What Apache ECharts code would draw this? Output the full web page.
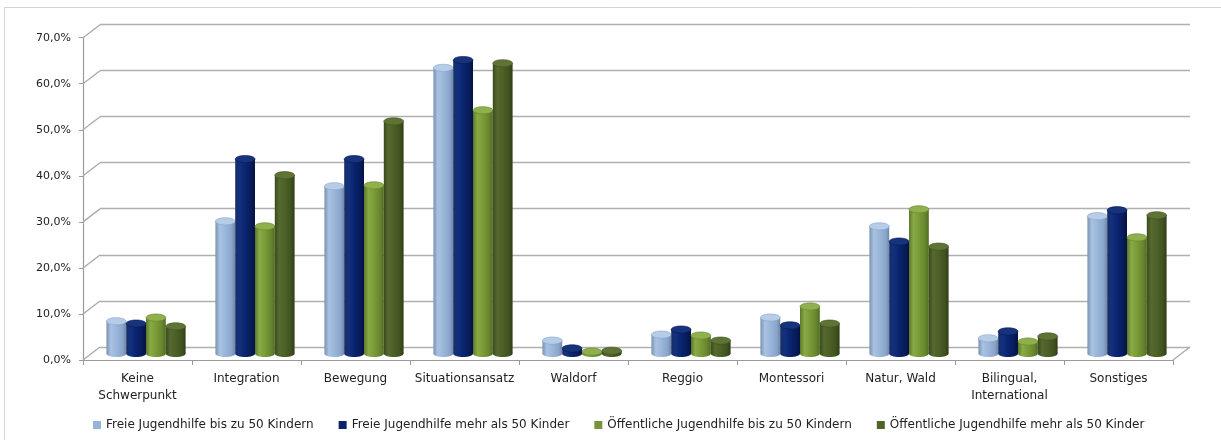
<!DOCTYPE html>
<html>
<head>
<meta charset="utf-8">
<script src="https://cdn.jsdelivr.net/npm/echarts@6/dist/echarts.min.js"></script>
<style>
  html, body { margin: 0; padding: 0; background: #ffffff; }
  #chart { width: 1221px; height: 440px; }
</style>
</head>
<body>
<div id="chart"></div>
<script>
// Pädagogische Schwerpunkte nach Trägerart und Einrichtungsgröße (Anteile in %)
const categories = [
  'Keine\nSchwerpunkt', 'Integration', 'Bewegung', 'Situationsansatz', 'Waldorf',
  'Reggio', 'Montessori', 'Natur, Wald', 'Bilingual,\nInternational', 'Sonstiges'
];
const seriesNames = [
  'Freie Jugendhilfe bis zu 50 Kindern',
  'Freie Jugendhilfe mehr als 50 Kinder',
  'Öffentliche Jugendhilfe bis zu 50 Kindern',
  'Öffentliche Jugendhilfe mehr als 50 Kinder'
];
const freieKlein      = [7.0, 28.7, 36.3, 62.0, 2.8, 4.1, 7.8, 27.6, 3.3, 29.8];
const freieGross      = [6.5, 42.2, 42.2, 63.7, 1.1, 5.2, 6.1, 24.3, 4.8, 31.1];
const oeffentlichKlein = [7.8, 27.6, 36.5, 52.8, 0.4, 3.9, 10.2, 31.3, 2.6, 25.2];
const oeffentlichGross = [5.9, 38.7, 50.4, 63.0, 0.6, 2.8, 6.5, 23.2, 3.7, 30.0];
const yTicks = [0, 10, 20, 30, 40, 50, 60, 70];

const seriesValues = [freieKlein, freieGross, oeffentlichKlein, oeffentlichGross];

// Cylinder shading: body gradient stops, cap colour, legend colour
const palette = [
  { legend: '#95B3D7', cap: '#b6cce7',
    body: ['#7a91b0', '#a9c2e2', '#9ab6da', '#89a5c9', '#7088a8'] },
  { legend: '#0b2468', cap: '#16337b',
    body: ['#1a2d66', '#12317c', '#0a2470', '#071b57', '#041240'] },
  { legend: '#77933C', cap: '#8fb04c',
    body: ['#5c762b', '#88aa44', '#7a9b38', '#67852d', '#506a23'] },
  { legend: '#4F6228', cap: '#5f7434',
    body: ['#3a491d', '#56692f', '#4c6027', '#40521f', '#2f3c17'] }
];

// depth offset of the chart's 3D box (front plane -> back wall)
const DEPTH_X = 17, DEPTH_Y = -13;
const BAR_SLOT = 19.8;

function bodyGradient(stops) {
  return new echarts.graphic.LinearGradient(0, 0, 1, 0, [
    { offset: 0, color: stops[0] },
    { offset: 0.22, color: stops[1] },
    { offset: 0.5, color: stops[2] },
    { offset: 0.82, color: stops[3] },
    { offset: 1, color: stops[4] }
  ]);
}

function cylinderRenderer(k) {
  const p = palette[k];
  return function (params, api) {
    const cat = api.value(0);
    const v = api.value(1);
    const top = api.coord([cat, v]);
    const base = api.coord([cat, 0]);
    const cx = base[0] + (k - 1.5) * BAR_SLOT;
    const w = BAR_SLOT;
    const rx = w / 2, ry = 3.6;
    const grad = bodyGradient(p.body);
    return {
      type: 'group',
      children: [
        { type: 'ellipse', shape: { cx: cx, cy: base[1], rx: rx, ry: ry }, style: { fill: grad } },
        { type: 'rect', shape: { x: cx - rx, y: top[1], width: w, height: Math.max(0, base[1] - top[1]) },
          style: { fill: grad } },
        { type: 'ellipse', shape: { cx: cx, cy: top[1], rx: rx, ry: ry },
          style: { fill: p.cap, stroke: p.body[3], lineWidth: 0.6 } }
      ]
    };
  };
}

// left wall connectors and right floor edge of the 3D box
function wallRenderer(params, api) {
  const v = api.value(0);
  const cs = params.coordSys;
  const y = api.coord([0, v])[1];
  const lines = [
    { type: 'line', shape: { x1: cs.x, y1: y, x2: cs.x + DEPTH_X, y2: y + DEPTH_Y },
      style: { stroke: '#a9a9a9', lineWidth: 1.3 } }
  ];
  if (v === 0) {
    const xr = cs.x + cs.width;
    lines.push({ type: 'line', shape: { x1: xr, y1: y, x2: xr + DEPTH_X, y2: y + DEPTH_Y },
      style: { stroke: '#a9a9a9', lineWidth: 1.3 } });
  }
  return { type: 'group', children: lines };
}

const chart = echarts.init(document.getElementById('chart'), null, { renderer: 'canvas' });

const fontFamily = 'DejaVu Sans';

const option = {
  animation: false,
  backgroundColor: '#ffffff',
  textStyle: { fontFamily: fontFamily },
  graphic: [
    { type: 'rect', z: -10, silent: true,
      shape: { x: 4.5, y: 7.5, width: 1240, height: 460 },
      style: { fill: 'none', stroke: '#d4d4d4', lineWidth: 1 } }
  ],
  legend: {
    bottom: 4,
    left: 88,
    itemWidth: 8,
    itemHeight: 8,
    itemGap: 25,
    icon: 'rect',
    textStyle: { fontFamily: fontFamily, fontSize: 12, color: '#222222' },
    data: seriesNames.map((n, i) => ({ name: n, itemStyle: { color: palette[i].legend } }))
  },
  grid: [
    // back wall
    { left: 100, right: 31, top: 24.3, bottom: 93 },
    // front plane (axes and labels)
    { left: 83, right: 48, top: 37.7, bottom: 80 },
    // mid depth (columns)
    { left: 91.5, right: 39.5, top: 31, bottom: 86.5 }
  ],
  xAxis: [
    { gridIndex: 0, type: 'category', data: categories, show: false },
    { gridIndex: 1, type: 'category', data: categories,
      axisLine: { show: true, lineStyle: { color: '#9a9a9a', width: 1.2 } },
      axisTick: { show: true, length: 5, lineStyle: { color: '#9a9a9a' } },
      axisLabel: { interval: 0, margin: 10, fontSize: 12, lineHeight: 17, color: '#222222', fontFamily: fontFamily } },
    { gridIndex: 2, type: 'category', data: categories, show: false }
  ],
  yAxis: [
    { gridIndex: 0, type: 'value', min: 0, max: 70, interval: 10,
      axisLine: { show: false }, axisTick: { show: false }, axisLabel: { show: false },
      splitLine: { show: true, lineStyle: { color: '#b0b0b0', width: 1.4 } } },
    { gridIndex: 1, type: 'value', min: 0, max: 70, interval: 10,
      splitLine: { show: false },
      axisLine: { show: true, lineStyle: { color: '#9a9a9a', width: 1.2 } },
      axisTick: { show: true, length: 4, lineStyle: { color: '#9a9a9a' } },
      axisLabel: { margin: 12, fontSize: 11, color: '#222222', fontFamily: fontFamily,
        formatter: v => v.toFixed(1).replace('.', ',') + '%' } },
    { gridIndex: 2, type: 'value', min: 0, max: 70, interval: 10, show: false, splitLine: { show: false } }
  ],
  series: [
    { type: 'custom', name: 'wall', xAxisIndex: 1, yAxisIndex: 1, silent: true, z: 1,
      renderItem: wallRenderer, encode: { y: 0 }, data: yTicks.map(t => [t]) }
  ].concat(seriesValues.map((vals, k) => ({
    type: 'custom',
    name: seriesNames[k],
    xAxisIndex: 2,
    yAxisIndex: 2,
    z: 3,
    itemStyle: { color: palette[k].legend },
    renderItem: cylinderRenderer(k),
    encode: { x: 0, y: 1 },
    data: vals.map((v, i) => [i, v])
  })))
};

chart.setOption(option);
</script>
</body>
</html>
